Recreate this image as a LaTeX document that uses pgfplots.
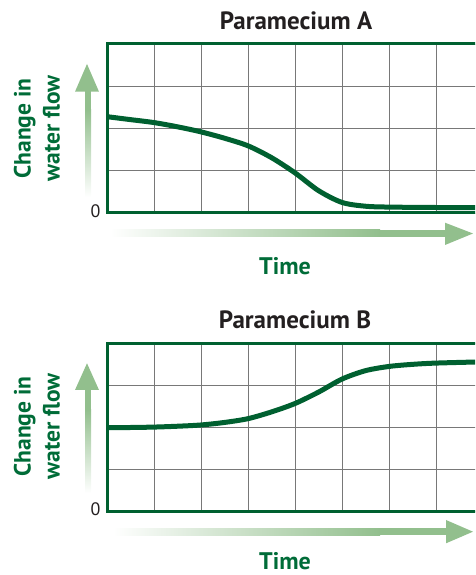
\documentclass[border=0pt]{standalone}
\usepackage{pgfplots}
\pgfplotsset{compat=1.18}
\usepackage{fontspec}
\setmainfont{PT Sans}
\definecolor{dkgreen}{RGB}{0,96,48}
\definecolor{lblgreen}{RGB}{0,108,56}
\definecolor{argreen}{RGB}{146,191,141}
\definecolor{ttl}{RGB}{35,31,32}
\definecolor{gridgray}{RGB}{120,120,120}

\pgfplotstableread{
x y
0 2.28
0.5 2.21
1 2.14
1.5 2.04
2 1.92
2.5 1.77
3 1.59
3.5 1.31
4 0.95
4.5 0.53
5 0.25
5.5 0.16
6 0.14
7 0.13
8 0.13
}\dataA
\pgfplotstableread{
x y
0 2.00
0.5 2.00
1 2.01
1.5 2.03
2 2.06
2.5 2.12
3 2.21
3.5 2.37
4 2.57
4.5 2.84
5 3.15
5.5 3.35
6 3.45
6.5 3.50
7 3.53
8 3.56
}\dataB

\pgfplotsset{
  para/.style={
    scale only axis,
    width=376pt, height=169pt,
    xmin=0, xmax=8, ymin=0, ymax=4,
    xtick={0,...,8}, ytick={0,...,4},
    xticklabels={}, yticklabels={0,,,,},
    major tick length=0pt,
    grid=major,
    grid style={gridgray, line width=0.9pt},
    axis line style={dkgreen, line width=3pt},
    yticklabel style={font=\fontsize{18}{20}\selectfont, text=ttl, xshift=-3pt, yshift=2pt},
    /pgf/number format/assume math mode=true,
    anchor=south west,
    clip=true,
  }
}

\begin{document}
\begin{tikzpicture}[x=1pt,y=1pt]
\useasboundingbox (0,0) rectangle (475,575);
\clip (0,0) rectangle (475,575);

% ---------- Paramecium A ----------
\begin{axis}[para, at={(107pt,362pt)}, height=169pt]
\addplot[dkgreen, line width=5pt, smooth, line cap=round] table[x=x,y=y] {\dataA};
\end{axis}

% ---------- Paramecium B ----------
\begin{axis}[para, at={(107pt,63.3pt)}, height=168.4pt]
\addplot[dkgreen, line width=5pt, smooth, line cap=round] table[x=x,y=y] {\dataB};
\end{axis}

% titles
\node[text=ttl, font=\fontsize{25}{28}\selectfont\bfseries] at (296,554) {Paramecium A};
\node[text=ttl, font=\fontsize{25}{28}\selectfont\bfseries] at (295,255) {Paramecium B};

% y labels
\node[text=lblgreen, rotate=90, align=center, font=\fontsize{23.5}{29}\selectfont\bfseries] at (37,446.5) {Change in\\water flow};
\node[text=lblgreen, rotate=90, align=center, font=\fontsize{23.5}{29}\selectfont\bfseries] at (37,148.5) {Change in\\water flow};

% x labels
\node[text=lblgreen, font=\fontsize{24}{27}\selectfont\bfseries] at (285,309) {Time};
\node[text=lblgreen, font=\fontsize{24}{27}\selectfont\bfseries, inner sep=1pt] at (285,14) {Time};

% vertical arrows (top)
\shade[bottom color=white, top color=argreen] (85,378) rectangle (91,465);
\fill[argreen] (85,464.5) rectangle (91,484);
\fill[argreen] (75,483.3) -- (99,483.3) -- (87,511) -- cycle;
% vertical arrows (bottom)
\shade[bottom color=white, top color=argreen] (85,82) rectangle (91,165);
\fill[argreen] (85,164.5) rectangle (91,186);
\fill[argreen] (75,185) -- (99,185) -- (87,211.7) -- cycle;

% horizontal arrows (top)
\shade[left color=white, right color=argreen] (110,338) rectangle (380,345);
\fill[argreen] (379.5,338) rectangle (446,345);
\fill[argreen] (445,352.3) -- (445,330) -- (473,341.5) -- cycle;
% horizontal arrows (bottom)
\shade[left color=white, right color=argreen] (113,39.8) rectangle (380,46.8);
\fill[argreen] (379.5,39.8) rectangle (447,46.8);
\fill[argreen] (446,55) -- (446,31.7) -- (473,43.3) -- cycle;
\end{tikzpicture}
\end{document}
